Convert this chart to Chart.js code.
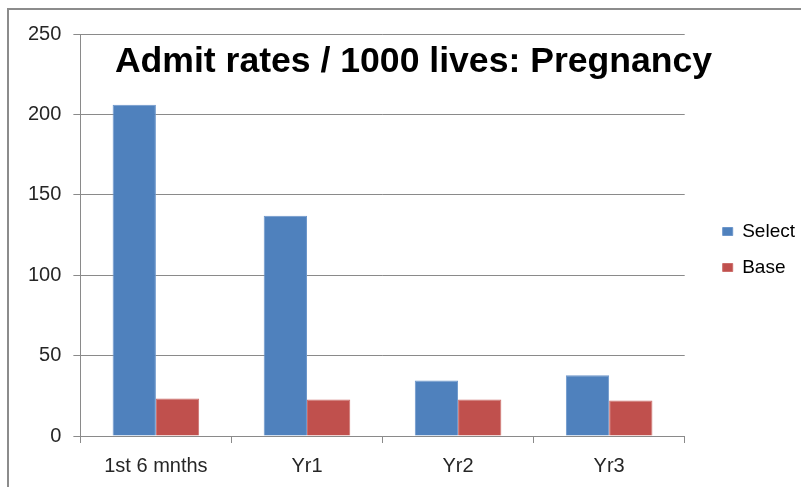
<!DOCTYPE html>
<html lang="en">
<head>
    <meta charset="UTF-8">
    <title>Admit rates / 1000 lives: Pregnancy</title>
    <script src="https://cdn.jsdelivr.net/npm/chart.js"></script>
    <style>
        body {
            margin: 0;
            padding: 0;
            background: #ffffff;
            overflow: hidden;
        }
        .wrap {
            position: relative;
            width: 801px;
            height: 487px;
            overflow: hidden;
        }
        .frame {
            position: absolute;
            left: 7px;
            top: 8px;
            width: 900px;
            height: 600px;
            border-left: 2px solid #8c8c8c;
            border-top: 2px solid #8c8c8c;
        }
        canvas {
            position: absolute;
            left: 0;
            top: 0;
        }
    </style>
</head>
<body>

<div class="wrap">
    <div class="frame"></div>
    <canvas id="admitChart" width="805" height="497"></canvas>
</div>

<script>
// Data
const titleText = 'Admit rates / 1000 lives: Pregnancy';
const categories = ['1st 6 mnths', 'Yr1', 'Yr2', 'Yr3'];
const selectValues = [206, 137, 34.5, 37.8];
const baseValues = [23.3, 22.7, 22.7, 22];
const yMin = 0;
const yMax = 250;
const yStep = 50;

const gridGrey = '#8a8a8a';
const fontFamily = '"Liberation Sans", Arial, sans-serif';

// Title sits inside the plot area, so draw it after the chart
const overlayTitle = {
    id: 'overlayTitle',
    afterDraw(chart) {
        const ctx = chart.ctx;
        ctx.save();
        ctx.font = 'bold 35.6px ' + fontFamily;
        ctx.fillStyle = '#000000';
        ctx.textAlign = 'center';
        ctx.textBaseline = 'alphabetic';
        ctx.fillText(titleText, 413.5, 72);
        ctx.restore();
    }
};

// Legend sits a bit above the centre of the canvas
const legendNudge = {
    id: 'legendNudge',
    afterLayout(chart) {
        chart.legend.top -= 12;
        chart.legend.bottom -= 12;
    }
};

new Chart(document.getElementById('admitChart'), {
    type: 'bar',
    data: {
        labels: categories,
        datasets: [{
            label: 'Select',
            data: selectValues,
            backgroundColor: '#4F81BD',
            borderColor: '#6C96CB',
            borderWidth: 1
        }, {
            label: 'Base',
            data: baseValues,
            backgroundColor: '#C0504D',
            borderColor: '#CC6E6B',
            borderWidth: 1
        }]
    },
    options: {
        responsive: false,
        animation: false,
        devicePixelRatio: 1,
        layout: {
            padding: { left: 16, top: 34, right: 0, bottom: 8 }
        },
        datasets: {
            bar: {
                categoryPercentage: 0.573,
                barPercentage: 1
            }
        },
        plugins: {
            legend: {
                position: 'right',
                labels: {
                    boxWidth: 10,
                    boxHeight: 8,
                    padding: 17,
                    color: '#000000',
                    font: { family: fontFamily, size: 19 }
                }
            },
            tooltip: { enabled: false }
        },
        scales: {
            x: {
                grid: {
                    offset: true,
                    drawOnChartArea: false,
                    tickLength: 7,
                    color: gridGrey
                },
                border: { color: gridGrey, width: 1 },
                ticks: {
                    padding: 11,
                    color: '#262626',
                    font: { family: fontFamily, size: 20 }
                }
            },
            y: {
                min: yMin,
                max: yMax,
                ticks: {
                    stepSize: yStep,
                    padding: 12,
                    color: '#262626',
                    font: { family: fontFamily, size: 20 }
                },
                grid: {
                    tickLength: 7,
                    color: gridGrey
                },
                border: { color: gridGrey, width: 1 }
            },
            spacer: {
                position: 'right',
                display: true,
                grid: { display: false },
                border: { display: false },
                ticks: { display: false },
                afterFit(scale) {
                    scale.width = 21;
                }
            }
        }
    },
    plugins: [overlayTitle, legendNudge]
});
</script>

</body>
</html>
